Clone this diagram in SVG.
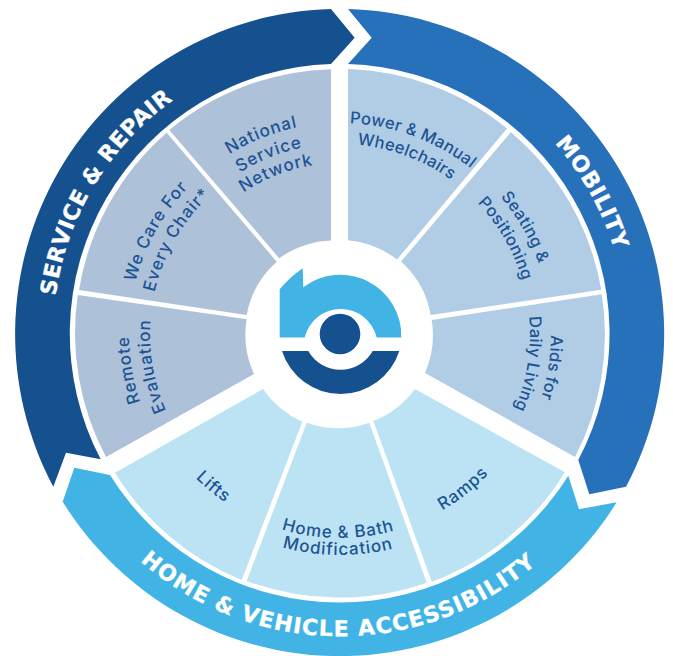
<svg xmlns="http://www.w3.org/2000/svg" width="673" height="656" viewBox="0 0 673 656">
<style>
.lb{font-family:Inter,"Liberation Sans",sans-serif;font-weight:500;font-size:17px;letter-spacing:.9px;fill:#1d5493;text-anchor:middle}
.t{font-size:16.5px;letter-spacing:.3px}
.bd{font-family:"DejaVu Sans",sans-serif;font-weight:700;font-size:22px;fill:#fff;stroke:#fff;stroke-width:.3;text-anchor:middle}
.m{fill:#b1cde5}.s{fill:#adc1d9}.h{fill:#bce3f4}
</style>
<defs>
<path id="pS" d="M92.300 478.900A288 288 0 0 1 340 46"/>
<path id="pM" d="M340 46A288 288 0 0 1 587.700 478.900"/>
<path id="pH" d="M78 485.500A303 303 0 0 0 602 485.500"/>
<path id="c1" d="M340 545A211 211 0 1 1 340 123A211 211 0 1 1 340 545"/>
<path id="c2" d="M340 524A190 190 0 1 1 340 144A190 190 0 1 1 340 524"/>
<path id="c3" d="M340 505A171 171 0 1 1 340 163A171 171 0 1 1 340 505"/>
<path id="b1" d="M136 334A204 204 0 0 0 544 334"/>
<path id="b2" d="M119 334A221 221 0 0 0 561 334"/>
</defs>
<rect width="673" height="656" fill="#fff"/>
<g id="band-service"><path fill="#16518f" d="M100.700 459.300L66 452.700L53.300 486.700A325 325 0 0 1 331 9L354.700 37.700L331 64A270 270 0 0 0 100.700 459.300Z"/>
<text class="bd" letter-spacing=".5"><textPath href="#pS" startOffset="51%">SERVICE &amp; REPAIR</textPath></text></g>
<g id="band-mobility"><path fill="#2770ba" d="M348 9L371.700 37.700L348 64A270 270 0 0 1 578.300 460L589.300 494.300L626 486.700A325 325 0 0 0 348 9Z"/>
<text class="bd" letter-spacing=".6"><textPath href="#pM" startOffset="50.500%">MOBILITY</textPath></text></g>
<g id="band-home"><path fill="#41b4e5" d="M110 475L74.300 467.700L62.700 501.700A326 326 0 0 0 616.700 502.300L579 509.300L568.300 475.700A270 270 0 0 1 110 475Z"/>
<text class="bd" letter-spacing="1.1"><textPath href="#pH" startOffset="49.700%">HOME &amp; VEHICLE ACCESSIBILITY</textPath></text></g>
<g id="power"><path class="m" d="M348 69.100A265 265 0 0 1 507 128.400L397 259.500A94 94 0 0 0 348 240.300Z"/><text class="lb t"><textPath href="#c1" startOffset="55.700%">Power &amp; Manual</textPath></text><text class="lb t"><textPath href="#c2" startOffset="55.700%">Wheelchairs</textPath></text></g>
<g id="seating"><path class="m" d="M510.800 132.300A265 265 0 0 1 601.300 289.800L430.700 315A94 94 0 0 0 401 261.500Z"/><text class="lb t"><textPath href="#c1" startOffset="66.670%">Seating &amp;</textPath></text><text class="lb t"><textPath href="#c2" startOffset="66.670%">Positioning</textPath></text></g>
<g id="aids"><path class="m" d="M601.800 294.200A265 265 0 0 1 575 457L425 373A94 94 0 0 0 431.700 320Z"/><text class="lb t"><textPath href="#c1" startOffset="77.500%">Aids for</textPath></text><text class="lb t"><textPath href="#c2" startOffset="77.500%">Daily Living</textPath></text></g>
<g id="ramps"><path class="h" d="M565 472.300A265 265 0 0 1 431.700 581.700L373.300 421A94 94 0 0 0 415 389Z"/><text class="lb"><textPath href="#b1" startOffset="71.400%">Ramps</textPath></text></g>
<g id="home-bath"><path class="h" d="M426.700 582.700A265 265 0 0 1 246.700 581L306.700 422.700A94 94 0 0 0 369.300 422.700Z"/><text class="lb"><textPath href="#b1" startOffset="49.700%">Home &amp; Bath</textPath></text><text class="lb"><textPath href="#b2" startOffset="49.700%">Modification</textPath></text></g>
<g id="lifts"><path class="h" d="M241.700 580A265 265 0 0 1 115 472.700L263 389A94 94 0 0 0 302.300 421.700Z"/><text class="lb"><textPath href="#b1" startOffset="28%">Lifts</textPath></text></g>
<g id="remote"><path class="s" d="M106 457A265 265 0 0 1 77.700 295L246.700 319.300A94 94 0 0 0 254 374Z"/><text class="lb"><textPath href="#c1" startOffset="22.300%">Remote</textPath></text><text class="lb"><textPath href="#c2" startOffset="22.300%">Evaluation</textPath></text></g>
<g id="we-care"><path class="s" d="M79 290A265 265 0 0 1 166.700 132.700L276.700 261.700A94 94 0 0 0 246.700 315Z"/><text class="lb"><textPath href="#c1" startOffset="33.100%">We Care For</textPath></text><text class="lb"><textPath href="#c2" startOffset="33.300%">Every Chair*</textPath></text></g>
<g id="national"><path class="s" d="M169.300 130A265 265 0 0 1 331 69.200V240.400A94 94 0 0 0 279.300 258.300Z"/><text class="lb"><textPath href="#c1" startOffset="44%">National</textPath></text><text class="lb"><textPath href="#c2" startOffset="44%">Service</textPath></text><text class="lb"><textPath href="#c3" startOffset="44%">Network</textPath></text></g>
<g id="logo"><path fill="#41b4e5" d="M279.700 337.500V289.300Q290 277 302.700 268.300L303.300 287.300A61 61 0 0 1 401.300 337.500H376.700A37 37 0 0 0 304.700 337.500Z"/>
<path fill="#16518f" d="M282 351H308.300A37 37 0 0 0 372.700 351H399.300A61.500 61.500 0 0 1 282 351Z"/>
<circle cx="340" cy="334" r="20.300" fill="#16518f"/></g>
</svg>
